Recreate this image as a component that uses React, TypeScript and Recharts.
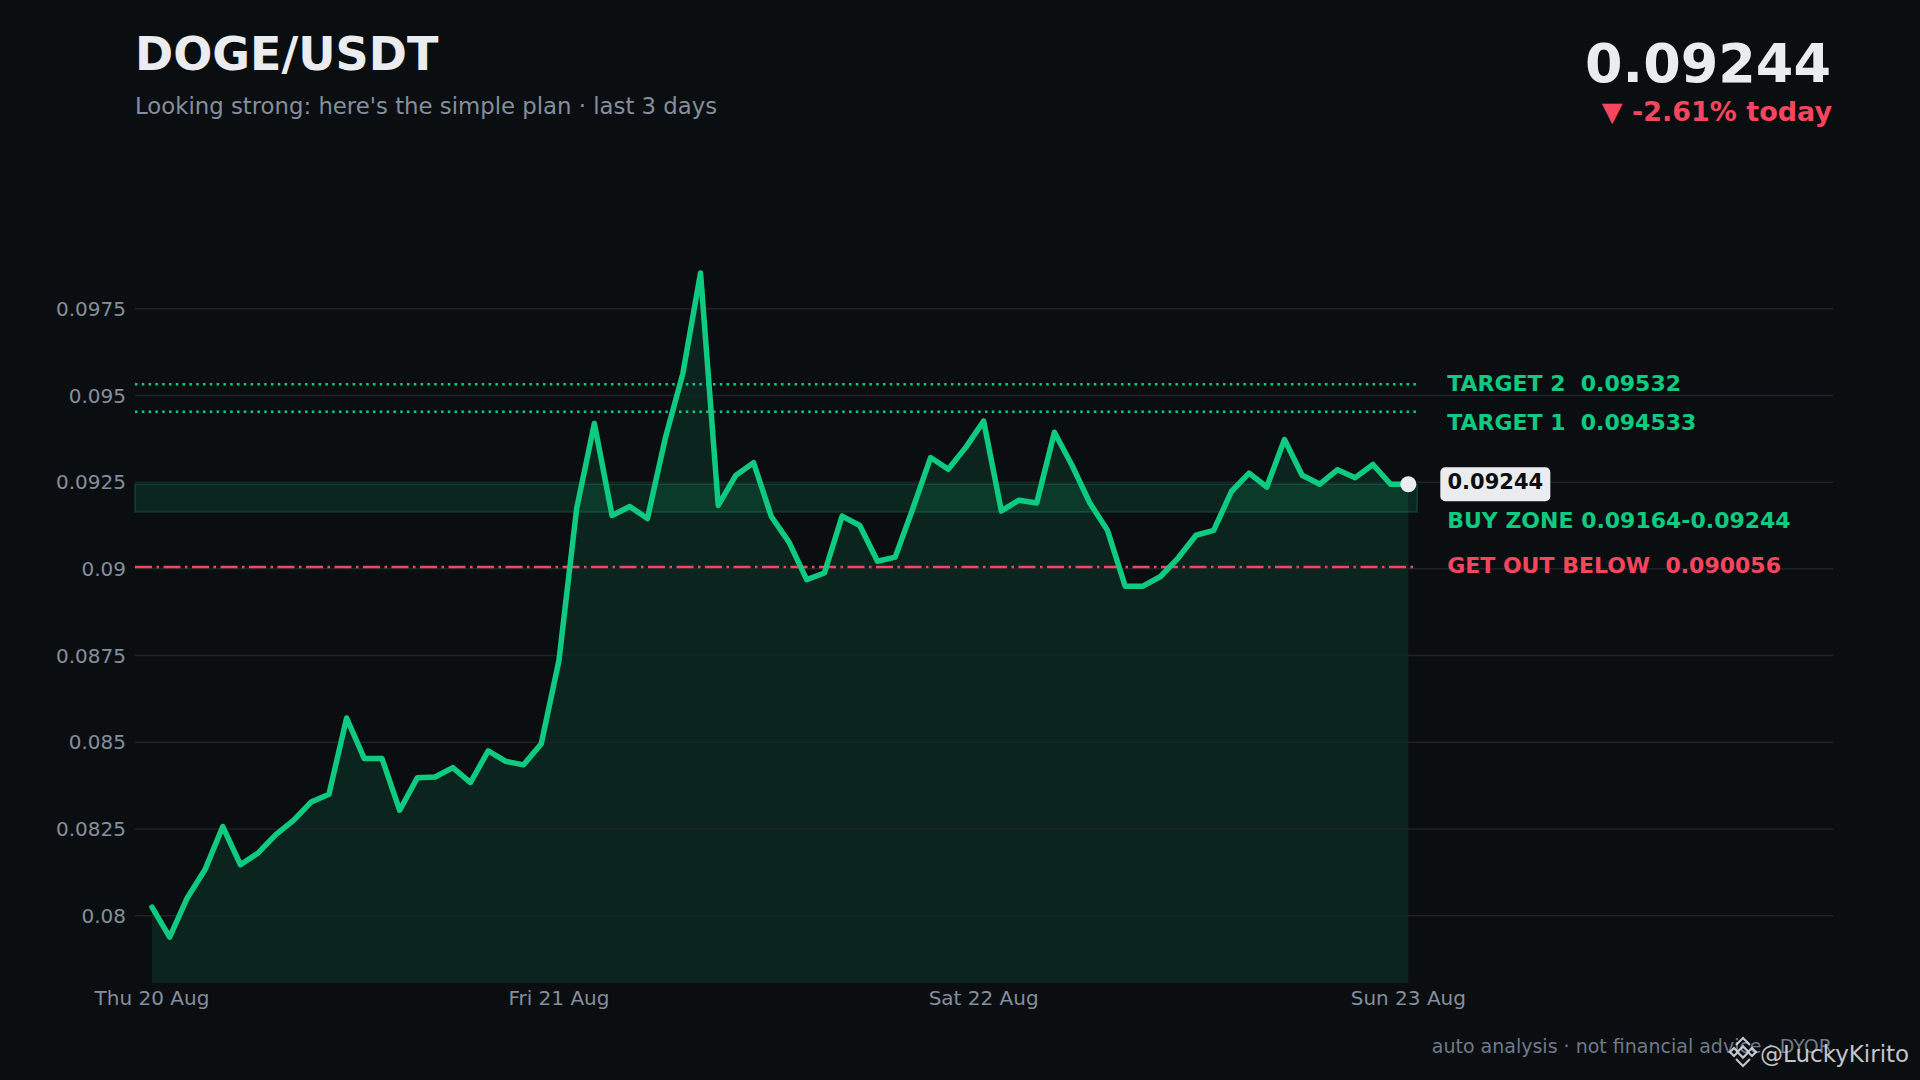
import React from "react";
import {
  ComposedChart,
  Area,
  Line,
  XAxis,
  YAxis,
  ReferenceLine,
  ReferenceArea,
} from "recharts";

// hourly closes, Thu 20 Aug -> Sun 23 Aug
const prices = [
  0.08025, 0.07938, 0.08052, 0.08133, 0.08257, 0.08147, 0.08181, 0.08234,
  0.08275, 0.08328, 0.0835, 0.0857, 0.08453, 0.08453, 0.08304, 0.08398,
  0.084, 0.08427, 0.08384, 0.08475, 0.08445, 0.08435, 0.08496, 0.08736,
  0.09174, 0.09419, 0.09154, 0.0918, 0.09145, 0.09375, 0.09563, 0.09853,
  0.09183, 0.0927, 0.09306, 0.09151, 0.09077, 0.08969, 0.08988, 0.09152,
  0.09125, 0.09022, 0.09034, 0.09174, 0.09321, 0.09287, 0.09351, 0.09426,
  0.09167, 0.09198, 0.0919, 0.09394, 0.09298, 0.0919, 0.09111, 0.0895,
  0.0895, 0.08978, 0.09032, 0.09097, 0.09111, 0.09223, 0.09276, 0.09236,
  0.09373, 0.0927, 0.09244, 0.09286, 0.09263, 0.09301, 0.09244, 0.09244,
];

const dayTicks = [0, 23, 47, 71];
const dayLabels = ["Thu 20 Aug", "Fri 21 Aug", "Sat 22 Aug", "Sun 23 Aug"];
const priceTicks = [0.08, 0.0825, 0.085, 0.0875, 0.09, 0.0925, 0.095, 0.0975];

const target1 = 0.094533;
const target2 = 0.09532;
const buyLow = 0.09164;
const buyHigh = 0.09244;
const stopLoss = 0.090056;
const lastPrice = 0.09244;

const GREEN = "#0ecb81";
const RED = "#f6465d";
const BG = "#0b0e11";
const TEXT = "#eaecef";
const MUTED = "#848e9c";
const FONT = "DejaVu Sans";

const X_MIN = -0.96;
const X_MAX = 95;
const LEVEL_END = prices.length - 0.5;

const data = prices.map((price, i) => ({ i, price }));

function SideLabel(props: any) {
  const { viewBox, text, color, dy = 0 } = props;
  if (!viewBox) return null;
  const { x, y, width, height } = viewBox;
  return (
    <text
      x={x + width + 30}
      y={y + height / 2 + dy + 8}
      fill={color}
      fontSize={22}
      fontWeight="bold"
      fontFamily={FONT}
      style={{ whiteSpace: "pre" }}
    >
      {text}
    </text>
  );
}

function LastDot(props: any) {
  const { cx, cy, index } = props;
  if (index !== prices.length - 1) return <g key={`d${index}`} />;
  return (
    <g key={`d${index}`}>
      <circle cx={cx} cy={cy} r={8} fill={TEXT} />
      <rect x={cx + 32} y={cy - 17} width={110} height={34} rx={5} fill={TEXT} />
      <text
        x={cx + 87}
        y={cy + 5}
        textAnchor="middle"
        fill={BG}
        fontSize={21}
        fontWeight="bold"
        fontFamily={FONT}
      >
        {lastPrice.toFixed(5)}
      </text>
    </g>
  );
}

export default function App() {
  return (
    <div
      style={{
        position: "absolute",
        left: 0,
        top: 0,
        width: 1920,
        height: 1080,
        background: BG,
        overflow: "hidden",
      }}
    >
      <ComposedChart
        width={1920}
        height={1080}
        data={data}
        margin={{ top: 170, right: 87, bottom: 57, left: 0 }}
      >
        <XAxis
          dataKey="i"
          type="number"
          domain={[X_MIN, X_MAX]}
          allowDataOverflow
          ticks={dayTicks}
          tickFormatter={(v: number) => dayLabels[dayTicks.indexOf(v)] ?? ""}
          axisLine={false}
          tickLine={false}
          height={40}
          tick={{ fill: MUTED, fontSize: 20, fontFamily: FONT }}
        />
        <YAxis
          type="number"
          domain={[0.07806, 0.1015]}
          allowDataOverflow
          ticks={priceTicks}
          tickFormatter={(v: number) => String(v)}
          axisLine={false}
          tickLine={false}
          width={135}
          tickMargin={3}
          tick={{ fill: MUTED, fontSize: 20, fontFamily: FONT }}
        />
        {/* horizontal grid at the price ticks only */}
        {priceTicks.map((t) => (
          <ReferenceLine key={t} y={t} stroke="#1e2329" strokeWidth={1.5} />
        ))}
        <Area
          dataKey="price"
          type="linear"
          stroke="none"
          fill={GREEN}
          fillOpacity={0.12}
          isAnimationActive={false}
        />
        <ReferenceArea
          x1={X_MIN}
          x2={LEVEL_END}
          y1={buyLow}
          y2={buyHigh}
          fill={GREEN}
          fillOpacity={0.13}
          stroke={GREEN}
          strokeOpacity={0.22}
          strokeWidth={1.5}
          label={(p: any) => (
            <SideLabel {...p} text={`BUY ZONE ${buyLow}-${buyHigh}`} color={GREEN} dy={22} />
          )}
        />
        <ReferenceLine
          segment={[
            { x: X_MIN, y: target2 },
            { x: LEVEL_END, y: target2 },
          ]}
          stroke={GREEN}
          strokeWidth={2.5}
          strokeDasharray="2.5 4.3"
          label={(p: any) => (
            <SideLabel {...p} text={`TARGET 2  ${target2}`} color={GREEN} dy={-1} />
          )}
        />
        <ReferenceLine
          segment={[
            { x: X_MIN, y: target1 },
            { x: LEVEL_END, y: target1 },
          ]}
          stroke={GREEN}
          strokeWidth={2.5}
          strokeDasharray="2.5 4.3"
          label={(p: any) => (
            <SideLabel {...p} text={`TARGET 1  ${target1}`} color={GREEN} dy={10} />
          )}
        />
        <ReferenceLine
          segment={[
            { x: X_MIN, y: stopLoss },
            { x: LEVEL_END, y: stopLoss },
          ]}
          stroke={RED}
          strokeWidth={2.5}
          strokeDasharray="17 4.5 2.5 4.5"
          label={(p: any) => (
            <SideLabel {...p} text={`GET OUT BELOW  ${stopLoss}`} color={RED} dy={-2} />
          )}
        />
        <Line
          dataKey="price"
          type="linear"
          stroke={GREEN}
          strokeWidth={5.5}
          strokeLinejoin="round"
          strokeLinecap="round"
          dot={LastDot}
          activeDot={false}
          isAnimationActive={false}
        />
      </ComposedChart>

      <svg
        width={1920}
        height={1080}
        style={{ position: "absolute", left: 0, top: 0, pointerEvents: "none" }}
        fontFamily={FONT}
      >
        <text x={135} y={70} fill={TEXT} fontSize={46} fontWeight="bold">
          DOGE/USDT
        </text>
        <text x={135} y={114} fill={MUTED} fontSize={22.8}>
          Looking strong: here's the simple plan · last 3 days
        </text>
        <text x={1831} y={82} fill={TEXT} fontSize={54} fontWeight="bold" textAnchor="end">
          {lastPrice.toFixed(5)}
        </text>
        <text x={1832} y={121} fill={RED} fontSize={27} fontWeight="bold" textAnchor="end">
          ▼ -2.61% today
        </text>
        <text x={1832} y={1053} fill="#707a8a" fontSize={19} textAnchor="end">
          auto analysis · not financial advice · DYOR
        </text>
        <g transform="translate(1743 1052)" fill="none" stroke="#d6d9de" strokeWidth={2.2} opacity={0.9}>
          <rect x={-4} y={-4} width={8} height={8} transform="rotate(45)" />
          <path d="M-13 0 L-9 -4 L-5 0 L-9 4 Z" />
          <path d="M13 0 L9 -4 L5 0 L9 4 Z" />
          <path d="M-7 -7 L0 -14 L7 -7" />
          <path d="M-7 7 L0 14 L7 7" />
        </g>
        <text x={1760} y={1062} fill="#d6d9de" fontSize={23} opacity={0.9}>
          @LuckyKirito
        </text>
      </svg>
    </div>
  );
}
